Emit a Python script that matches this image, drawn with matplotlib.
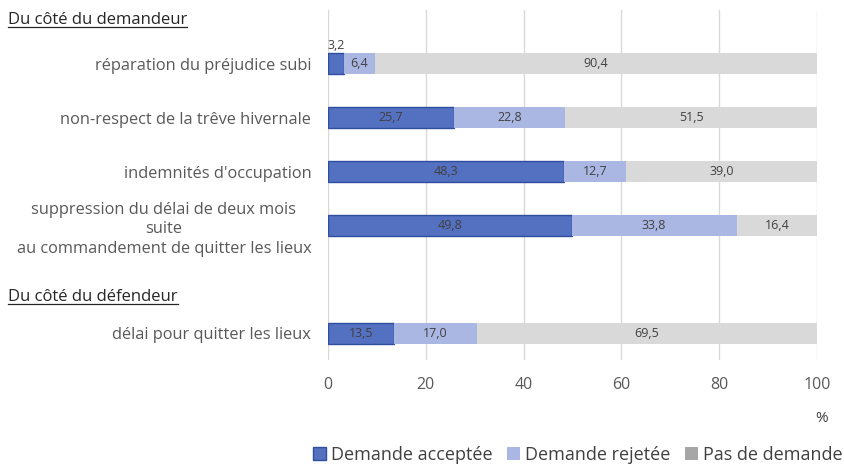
import matplotlib
matplotlib.use("Agg")
import matplotlib.pyplot as plt
from matplotlib.lines import Line2D

plt.rcParams['font.family'] = ['Open Sans', 'DejaVu Sans']

categories = [
    "réparation du préjudice subi",
    "non-respect de la trêve hivernale",
    "indemnités d'occupation",
    "suppression du délai de deux mois\nsuite\nau commandement de quitter les lieux",
    "",
    "délai pour quitter les lieux",
]
acceptee = [3.2, 25.7, 48.3, 49.8, None, 13.5]
rejetee = [6.4, 22.8, 12.7, 33.8, None, 17.0]
pas_demande = [90.4, 51.5, 39.0, 16.4, None, 69.5]
series_names = ["Demande acceptée", "Demande rejetée", "Pas de demande"]
xticks = [0, 20, 40, 60, 80, 100]
headers = ["Du côté du demandeur", "Du côté du défendeur"]

c_acc = "#5470C0"
c_acc_edge = "#2F4E9E"
c_rej = "#AAB7E2"
c_pas = "#D9D9D9"
txt = "#404040"

fig = plt.figure(figsize=(8.44, 4.66), dpi=100)
ax = fig.add_axes([328/844, 1-360/466, (817-328)/844, 350/466])

h = 0.39
fmt = lambda v: f"{v:.1f}".replace('.', ',')
for i, cat in enumerate(categories):
    a, r, p = acceptee[i], rejetee[i], pas_demande[i]
    if a is None:
        continue
    ax.barh(i, a, height=h, color=c_acc, edgecolor=c_acc_edge, linewidth=1.0, zorder=3)
    ax.barh(i, r, left=a, height=h, color=c_rej, edgecolor='none', zorder=3)
    ax.barh(i, p, left=a + r, height=h, color=c_pas, edgecolor='none', zorder=3)
    if a < 5:
        ax.text(a / 2, i - h / 2 - 0.02, fmt(a), ha='center', va='bottom', fontsize=9, color=txt, zorder=4)
    else:
        ax.text(a / 2, i, fmt(a), ha='center', va='center', fontsize=9, color=txt, zorder=4)
    ax.text(a + r / 2, i, fmt(r), ha='center', va='center', fontsize=9, color=txt, zorder=4)
    ax.text(a + r + p / 2, i, fmt(p), ha='center', va='center', fontsize=9, color=txt, zorder=4)

ax.set_xlim(0, 100)
ax.set_ylim(5.5, -1.0)
ax.set_xticks(xticks)
ax.set_xticklabels([str(t) for t in xticks], fontsize=11.5, color="#595959")
ax.set_yticks(range(len(categories)))
ax.set_yticklabels(categories, fontsize=11.8, color="#595959")
for lab in ax.get_yticklabels():
    lab.set_multialignment('center')
    lab.set_linespacing(1.3)
ax.tick_params(axis='both', length=0)
ax.tick_params(axis='y', pad=12)
ax.tick_params(axis='x', pad=12)
ax.grid(axis='x', color="#D9D9D9", linewidth=1.0, zorder=0)
for s in ax.spines.values():
    s.set_visible(False)

fig.text(822/844, 1-418/466, "%", ha='center', va='center', fontsize=11, color="#404040")

# headers with underline
fig.canvas.draw()
renderer = fig.canvas.get_renderer()
for htxt, ypix in zip(headers, [20, 297]):
    t = fig.text(8/844, 1-ypix/466, htxt, ha='left', va='center', fontsize=12, color="#262626")
    bb = t.get_window_extent(renderer=renderer)
    yline = (bb.y0 + 1) / fig.bbox.height
    fig.add_artist(Line2D([bb.x0 / fig.bbox.width, bb.x1 / fig.bbox.width], [yline, yline],
                          transform=fig.transFigure, color="#262626", linewidth=0.9))

handles = [
    plt.Rectangle((0, 0), 1, 1, facecolor=c_acc, edgecolor=c_acc_edge),
    plt.Rectangle((0, 0), 1, 1, facecolor=c_rej, edgecolor='none'),
    plt.Rectangle((0, 0), 1, 1, facecolor="#A6A6A6", edgecolor='none'),
]
fig.legend(handles, series_names, loc='center', bbox_to_anchor=(578/844, 1-455/466), ncol=3,
           frameon=False, fontsize=13, handlelength=0.7, handleheight=0.7, handletextpad=0.3,
           columnspacing=0.8, labelcolor="#404040")

fig.savefig("out.png", dpi=100)
